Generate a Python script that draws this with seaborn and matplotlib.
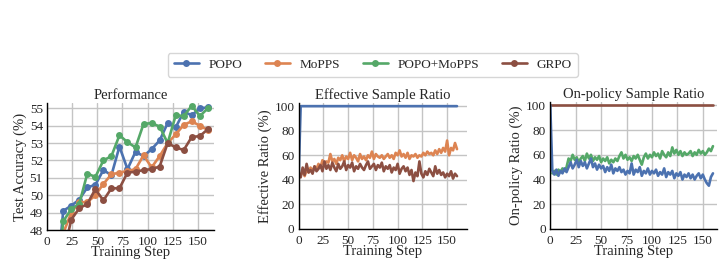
import numpy as np
import pandas as pd
import matplotlib
matplotlib.use("Agg")
import matplotlib.pyplot as plt
import seaborn as sns

# ---------------- data ----------------
perf_steps = [8, 16, 24, 32, 40, 48, 56, 64, 72, 80, 88, 96, 104, 112, 120, 128, 136, 144, 152, 160]
perf_popo = [44.0, 49.1, 49.4, 49.75, 50.45, 50.6, 51.45, 51.15, 52.8, 51.5, 52.5, 52.25, 52.65, 53.15,
             54.15, 53.9, 54.8, 54.6, 55.0, 55.05]
perf_mopps = [42.5, 47.8, 49.0, 49.6, 49.6, 50.0, 50.65, 51.2, 51.3, 51.4, 51.5, 52.3, 51.6, 52.25,
              53.0, 53.5, 54.05, 54.25, 54.0, 53.75]
perf_popo_mopps = [43.5, 48.5, 49.2, 49.5, 51.25, 51.05, 52.0, 52.25, 53.45, 53.05, 52.75, 54.1, 54.15, 53.95,
                   53.0, 54.6, 54.55, 55.15, 54.55, 55.0]
perf_grpo = [41.5, 46.5, 48.6, 49.25, 49.5, 50.35, 49.7, 50.4, 50.4, 51.3, 51.35, 51.45, 51.5, 51.65,
             53.0, 52.75, 52.6, 53.35, 53.4, 53.8]

# Effective sample ratio (steps 0, 2, 4, ...)
eff_popo_steps = [0, 2, 160]
eff_popo = [45, 100, 100]
eff_mopps = [45, 44, 47, 43, 48, 46, 50, 47, 51, 49,
             53, 50, 56, 52, 55, 54, 61, 55, 57, 53,
             58, 56, 60, 55, 59, 57, 62, 56, 60, 58,
             55, 61, 57, 59, 56, 60, 58, 63, 57, 61,
             59, 58, 60, 57, 59, 61, 58, 60, 57, 62,
             60, 64, 59, 61, 58, 62, 57, 60, 59, 61,
             58, 60, 59, 62, 60, 63, 61, 62, 60, 64,
             61, 65, 62, 66, 63, 72, 60, 66, 64, 70,
             65]
eff_grpo = [45, 42, 50, 44, 53, 46, 48, 45, 51, 47,
            49, 52, 47, 55, 49, 52, 48, 54, 50, 47,
            53, 49, 51, 55, 48, 52, 50, 54, 47, 51,
            49, 53, 50, 48, 52, 55, 49, 51, 53, 48,
            52, 50, 54, 47, 51, 49, 52, 46, 50, 48,
            53, 45, 49, 51, 47, 50, 44, 48, 39, 46,
            43, 55, 45, 42, 47, 44, 49, 46, 43, 51,
            45, 48, 44, 46, 42, 45, 43, 47, 41, 45,
            43]

# On-policy sample ratio
onp_popo = [100, 47, 44, 48, 43, 47, 45, 49, 46, 50,
            54, 49, 52, 56, 50, 55, 51, 54, 49, 53,
            57, 50, 53, 48, 52, 49, 51, 46, 50, 47,
            52, 45, 49, 47, 50, 46, 48, 44, 47, 45,
            53, 44, 48, 46, 50, 43, 47, 45, 49, 44,
            47, 45, 48, 43, 46, 44, 49, 42, 46, 44,
            47, 41, 45, 43, 46, 40, 44, 42, 45, 41,
            44, 40, 43, 45, 41, 44, 40, 37, 35, 42,
            45]
onp_popo_mopps = [45, 47, 44, 48, 46, 49, 47, 50, 57, 55,
                  60, 56, 58, 54, 57, 59, 55, 61, 57, 60,
                  55, 58, 56, 59, 54, 57, 55, 58, 53, 56,
                  54, 57, 55, 59, 62, 57, 60, 56, 58, 55,
                  59, 57, 60, 56, 52, 58, 61, 57, 60, 58,
                  62, 59, 61, 57, 63, 60, 58, 62, 59, 66,
                  61, 64, 60, 63, 59, 62, 60, 61, 63, 59,
                  62, 60, 64, 61, 63, 60, 62, 65, 63, 67]
onp_grpo_steps = [0, 160]
onp_grpo = [100, 100]

methods = ["POPO", "MoPPS", "POPO+MoPPS", "GRPO"]
colors = {"POPO": "#4C72B0", "MoPPS": "#DD8452", "POPO+MoPPS": "#55A868", "GRPO": "#8C4F42"}

# ---------------- frames ----------------
perf_df = pd.concat([
    pd.DataFrame({"step": perf_steps, "val": v, "method": m})
    for m, v in zip(methods, [perf_popo, perf_mopps, perf_popo_mopps, perf_grpo])
])
eff_df = pd.concat([
    pd.DataFrame({"step": eff_popo_steps, "val": eff_popo, "method": "POPO"}),
    pd.DataFrame({"step": np.arange(len(eff_mopps)) * 2, "val": eff_mopps, "method": "MoPPS"}),
    pd.DataFrame({"step": np.arange(len(eff_grpo)) * 2, "val": eff_grpo, "method": "GRPO"}),
])
onp_df = pd.concat([
    pd.DataFrame({"step": onp_grpo_steps, "val": onp_grpo, "method": "GRPO"}),
    pd.DataFrame({"step": np.arange(len(onp_popo_mopps)) * 2 + 2, "val": onp_popo_mopps, "method": "POPO+MoPPS"}),
    pd.DataFrame({"step": np.arange(len(onp_popo)) * 2, "val": onp_popo, "method": "POPO"}),
])

# ---------------- style ----------------
sns.set_theme(style="whitegrid")
plt.rcParams["font.family"] = ["Liberation Serif", "DejaVu Serif"]
plt.rcParams["mathtext.fontset"] = "stix"

fig = plt.figure(figsize=(7.25, 2.65), dpi=100)
ax1 = fig.add_axes([0.065, 0.132, 0.230, 0.479])
ax2 = fig.add_axes([0.412, 0.136, 0.232, 0.475])
ax3 = fig.add_axes([0.759, 0.136, 0.230, 0.478])

sns.lineplot(data=perf_df, x="step", y="val", hue="method", hue_order=methods, palette=colors,
             marker="o", markersize=5, markeredgewidth=0, linewidth=1.9, ax=ax1, legend=True)
sns.lineplot(data=eff_df, x="step", y="val", hue="method", palette=colors,
             linewidth=1.9, ax=ax2, legend=False)
sns.lineplot(data=onp_df, x="step", y="val", hue="method", palette=colors,
             linewidth=1.9, ax=ax3, legend=False)

ax1.set_ylim(48, 55.3)
ax1.set_yticks([48, 49, 50, 51, 52, 53, 54, 55])
ax1.set_xlim(0, 166)
ax2.set_ylim(0, 102.5)
ax2.set_xlim(0, 170)
ax3.set_ylim(0, 102.5)
ax3.set_xlim(0, 164)
for ax in (ax2, ax3):
    ax.set_yticks([0, 20, 40, 60, 80, 100])

titles = ["Performance", "Effective Sample Ratio", "On-policy Sample Ratio"]
ylabels = ["Test Accuracy (%)", "Effective Ratio (%)", "On-policy Ratio (%)"]
for ax, t, yl in zip((ax1, ax2, ax3), titles, ylabels):
    ax.set_xticks([0, 25, 50, 75, 100, 125, 150])
    ax.set_title(t, fontsize=10.5, pad=3)
    ax.set_xlabel("Training Step", fontsize=10.5, labelpad=-1)
    ax.set_ylabel(yl, fontsize=10.5, labelpad=2)
    ax.tick_params(axis="x", labelsize=9.5, pad=4, length=0)
    ax.tick_params(axis="y", labelsize=9.5, pad=3, length=0)
    ax.grid(True, color="#c4c4c4", linewidth=1.0)
    for s in ("top", "right"):
        ax.spines[s].set_visible(False)
    for s in ("left", "bottom"):
        ax.spines[s].set_color("black")
        ax.spines[s].set_linewidth(1.0)
    ax.set_axisbelow(True)

handles, labels = ax1.get_legend_handles_labels()
ax1.get_legend().remove()
fig.legend(handles, labels, loc="center", bbox_to_anchor=(0.514, 0.755), ncol=4,
           fontsize=9.5, frameon=True, handlelength=1.9, columnspacing=1.7,
           handletextpad=0.75, borderpad=0.45, edgecolor="#cccccc", fancybox=True)

fig.savefig("out.png", dpi=100)
